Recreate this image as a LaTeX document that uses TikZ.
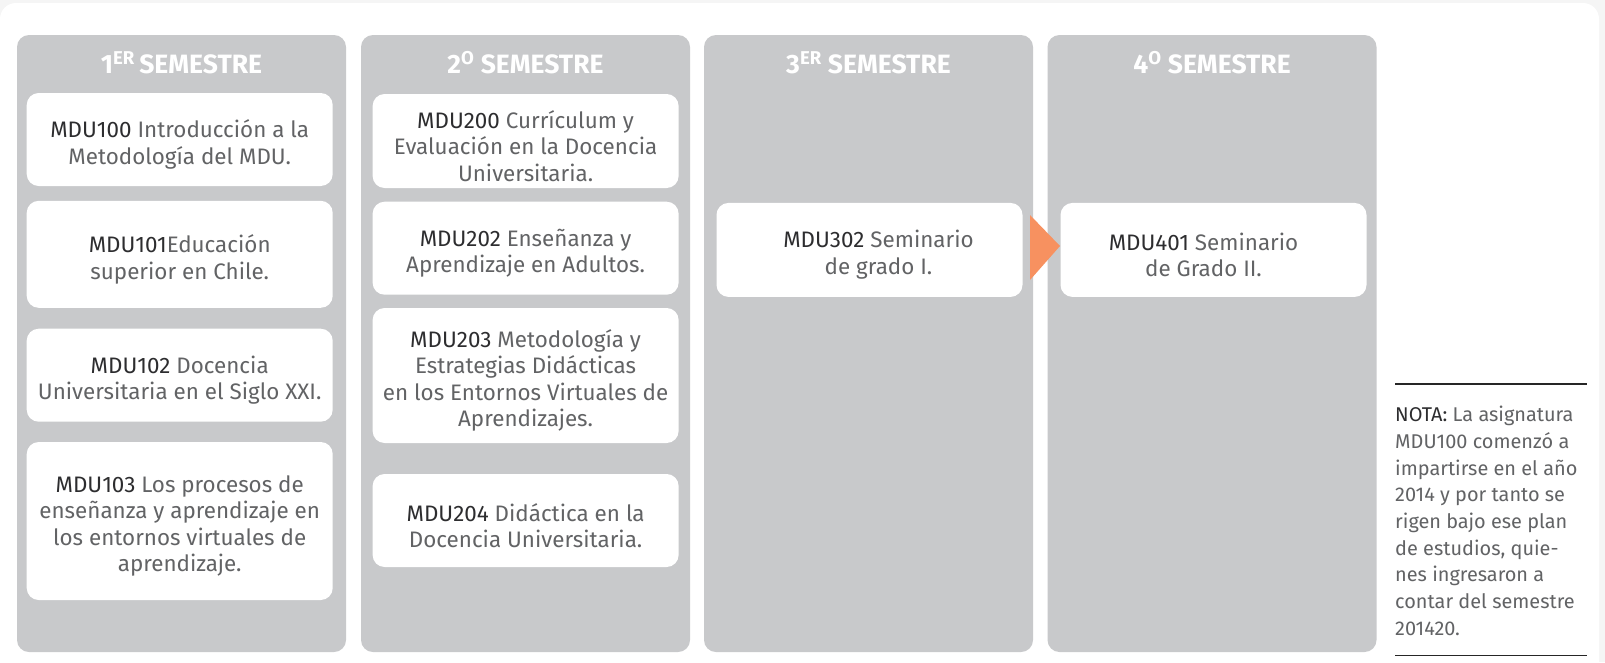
\documentclass[tikz,border=0pt]{standalone}
\usepackage{fontspec}
\setmainfont{Fira Sans}
\newfontfamily\headfont{Fira Sans}
\newfontfamily\codefont{Fira Sans}
\definecolor{colgray}{RGB}{200,201,203}
\definecolor{txtgray}{RGB}{98,99,101}
\definecolor{codegray}{RGB}{45,45,47}
\definecolor{arrowor}{RGB}{247,145,96}
\definecolor{bggray}{RGB}{245,245,245}
\newcommand{\cd}[1]{{\codefont\color{codegray}#1}}
\tikzset{
  column/.style={fill=colgray, rounded corners=12pt, minimum width=329pt, minimum height=617pt, inner sep=0pt},
  coursebox/.style={fill=white, rounded corners=12pt, minimum width=306pt, inner sep=0pt},
  coursetext/.style={align=center, text=txtgray, font=\fontsize{22.4}{26.6}\selectfont, inner sep=0pt},
  head/.style={text=white, font=\headfont\bfseries\fontsize{26.5}{30}\selectfont, inner sep=0pt},
  note/.style={text=txtgray, align=left, font=\fontsize{19.9}{26.7}\selectfont, inner sep=0pt, anchor=north west},
  rule/.style={draw=black!85, line width=1.2pt},
  marker/.style={fill=arrowor}
}
% \crsbox{name}{x}{y}{height}{xshift of text}{text}
\newcommand{\crsbox}[6]{%
  \node[coursebox, minimum height=#4pt] (#1) at (#2,#3) {};
  \node[coursetext] (#1-t) at ([xshift=#5pt,yshift=-5pt]#1.center) {#6};
}
\begin{document}
\begin{tikzpicture}[x=1pt,y=-1pt]
\useasboundingbox (0,0) rectangle (1605,662);
\clip (0,0) rectangle (1605,662);
\fill[bggray] (0,0) rectangle (1605,662);
\fill[white, rounded corners=16pt] (0,3) rectangle (1599,700);

% columns
\node[column] (c1) at (181.5,343.5) {};
\node[column] (c2) at (525.5,343.5) {};
\node[column] (c3) at (868.5,343.5) {};
\node[column] (c4) at (1212,343.5) {};

% headers
\node[head] (h1) at (181.5,62.5) {1\textsuperscript{ER}\,SEMESTRE};
\node[head] (h2) at (525.5,62.5) {2\textsuperscript{O} SEMESTRE};
\node[head] (h3) at (868.5,62.5) {3\textsuperscript{ER} SEMESTRE};
\node[head] (h4) at (1212,62.5) {4\textsuperscript{O} SEMESTRE};

% column 1
\crsbox{b100}{179.7}{139.5}{93}{0}{\cd{MDU100} Introducción a la\\Metodología del MDU.}
\crsbox{b101}{179.7}{254.3}{107}{0}{\cd{MDU101}Educación\\superior en Chile.}
\crsbox{b102}{179.7}{375.2}{93}{0}{\cd{MDU102} Docencia\\Universitaria en el Siglo XXI.}
\crsbox{b103}{179.7}{521}{158}{0}{\cd{MDU103} Los procesos de\\enseñanza y aprendizaje en\\los entornos virtuales de\\aprendizaje.}

% column 2
\crsbox{b200}{525.6}{141}{94}{0}{\cd{MDU200} Currículum y\\Evaluación en la Docencia\\Universitaria.}
\crsbox{b202}{525.6}{248.2}{93}{0}{\cd{MDU202} Enseñanza y\\Aprendizaje en Adultos.}
\crsbox{b203}{525.6}{375.5}{135}{0}{\cd{MDU203} Metodología y\\Estrategias Didácticas\\en los Entornos Virtuales de\\Aprendizajes.}
\crsbox{b204}{525.6}{520.5}{93}{0}{\cd{MDU204} Didáctica en la\\Docencia Universitaria.}

% column 3 and 4
\crsbox{b302}{869.5}{249.9}{94}{9}{\cd{MDU302} Seminario\\de grado I.}
\crsbox{b401}{1213.5}{249.9}{94}{-10}{\cd{MDU401} Seminario\\de Grado II.}

% arrow marker
\coordinate (ta) at (1030,215);
\coordinate (tb) at (1030,280);
\coordinate (tc) at (1060,246);
\fill[marker] (ta) -- (tc) -- (tb) -- cycle;

% note
\coordinate (r1a) at (1395,384);
\coordinate (r1b) at (1587,384);
\coordinate (r2a) at (1395,655.5);
\coordinate (r2b) at (1587,655.5);
\draw[rule] (r1a) -- (r1b);
\draw[rule] (r2a) -- (r2b);
\node[note] (nota) at (1395,406) {\cd{NOTA:} La asignatura\\MDU100 comenzó a\\impartirse en el año\\2014 y por tanto se\\rigen bajo ese plan\\de estudios, quie-\\nes ingresaron a\\contar del semestre\\201420.};
\end{tikzpicture}
\end{document}
